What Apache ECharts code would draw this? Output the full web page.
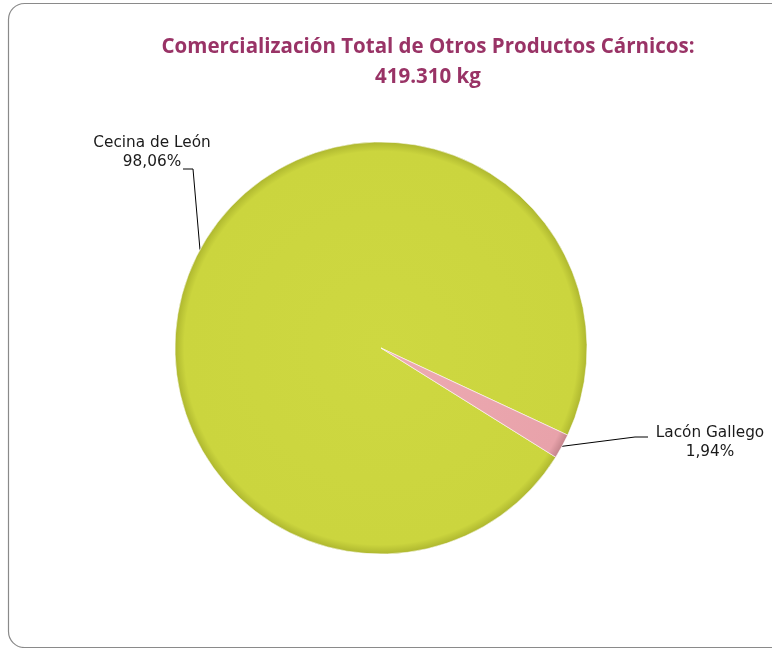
<!DOCTYPE html>
<html><head><meta charset="utf-8">
<script src="https://cdn.jsdelivr.net/npm/echarts@6/dist/echarts.min.js"></script>
<style>html,body{margin:0;padding:0;background:#fff}#c{width:772px;height:648px}</style>
</head><body><div id="c"></div>
<script>
const categories = ['Cecina de León', 'Lacón Gallego'];
const shares = [98.06, 1.94];
const shareLabels = ['98,06%', '1,94%'];
const titleLines = ['Comercialización Total de Otros Productos Cárnicos:', '419.310 kg'];

const CX = 381, CY = 348, R = 206;
const chart = echarts.init(document.getElementById('c'));
function grad(c0, c1, c2) {
  return {type:'radial', x:CX, y:CY, r:R, global:true, colorStops:[
    {offset:0, color:c0},{offset:0.955, color:c1},{offset:1, color:c2}]};
}
const fills = [grad('#CED841','#CBD53E','#AEB72F'), grad('#EDAAB2','#E8A2AA','#C4848C')];
chart.setOption({
  animation:false,
  graphic:[{type:'rect', shape:{x:8.5, y:3.5, width:790, height:644, r:16},
    style:{fill:'none', stroke:'#8a8a8a', lineWidth:1.2}, silent:true}],
  title:{text:titleLines.join('\n'), left:423, top:27, textAlign:'center',
    textStyle:{fontFamily:'Open Sans', fontWeight:'bold', fontSize:20.5, color:'#993366', lineHeight:30}},
  series:[{
    type:'pie', center:[CX,CY], radius:[0,R], startAngle:328, clockwise:true,
    data:categories.map((n,i)=>({name:n, value:shares[i], itemStyle:{color:fills[i]}})),
    itemStyle:{borderColor:'rgba(255,255,255,0.55)', borderWidth:1},
    label:{show:true, position:'outside', formatter:p=>p.name+'\n'+shareLabels[p.dataIndex],
      fontFamily:'DejaVu Sans', fontSize:15.3, color:'#1a1a1a', lineHeight:19, align:'center'},
    labelLine:{show:true, length:20, length2:14, lineStyle:{color:'#000', width:1}},
    labelLayout:function(p){
      const a = p.labelLinePoints ? p.labelLinePoints[0] : null;
      if(p.dataIndex===0){
        const cx = 152, cy = 153, yb = cy + 16;
        const o = {x:cx, y:cy, align:'center'};
        if(a) o.labelLinePoints = [a, [cx+41, yb], [cx+31, yb]];
        return o;
      }
      const cx = 710, cy = 443, left = cx - 57, yl = cy - 6;
      const o = {x:cx, y:cy, align:'center'};
      if(a) o.labelLinePoints = [a, [left-18, yl], [left-5, yl]];
      return o;
    }
  }]
});
</script></body></html>
